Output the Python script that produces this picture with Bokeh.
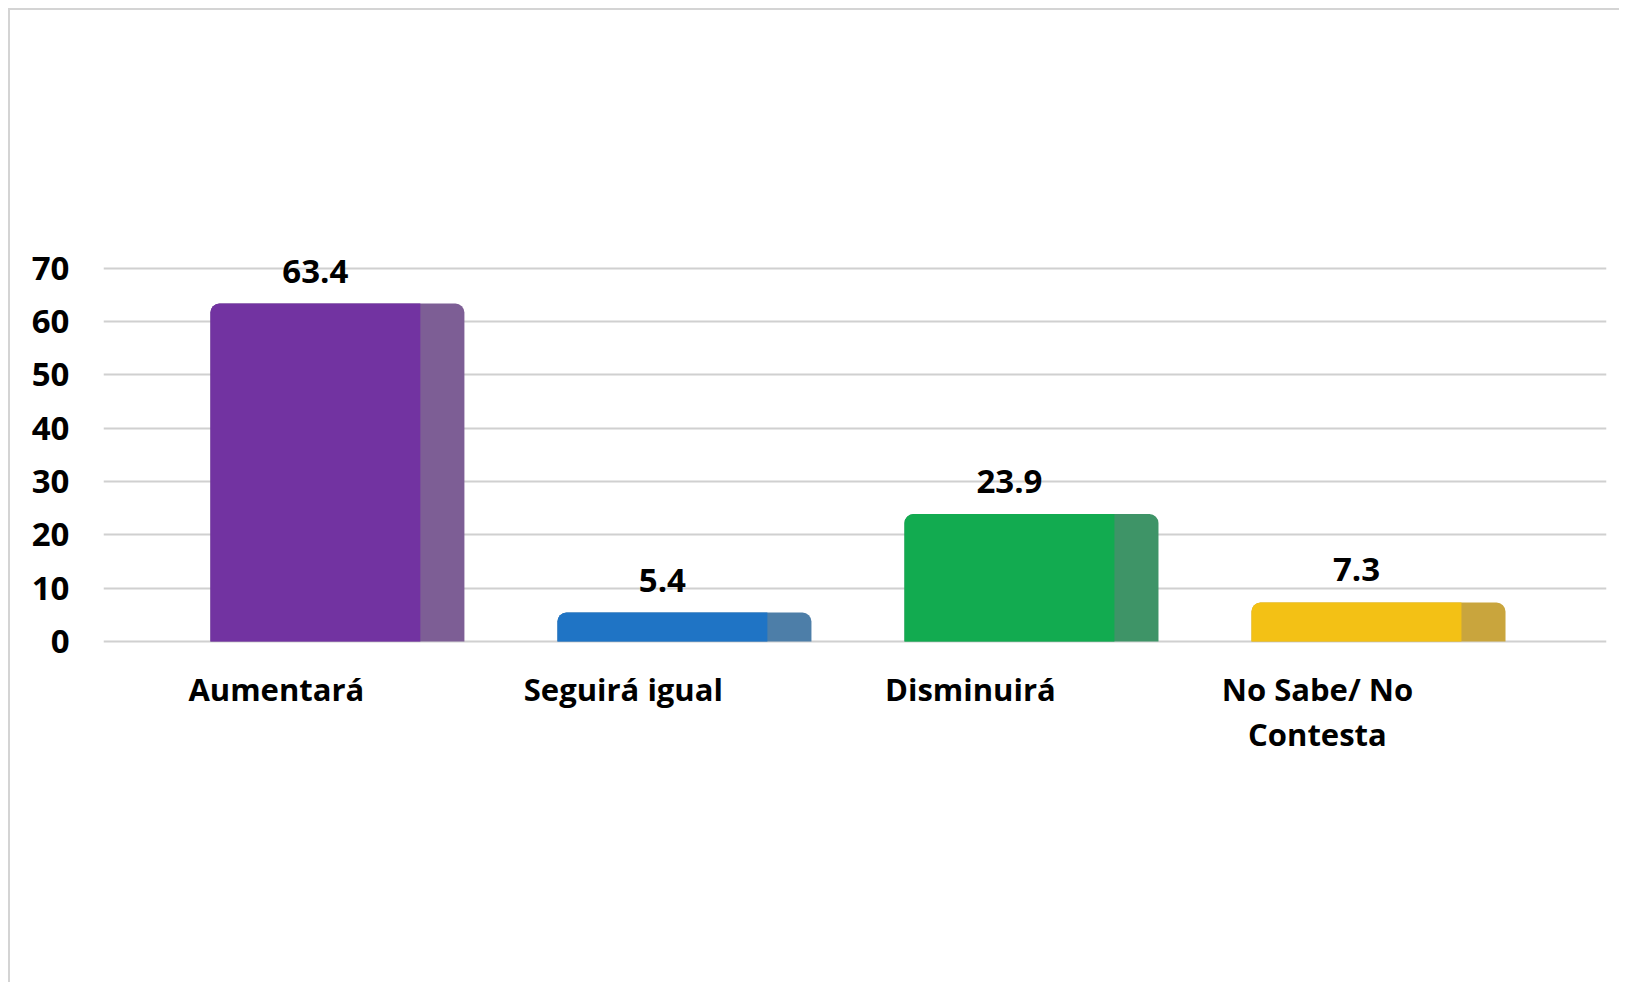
from bokeh.plotting import figure
from bokeh.models import ColumnDataSource, Range1d
from bokeh.core.properties import value
from bokeh.embed import file_html
from bokeh.resources import INLINE

# ---- data ----
categories = ["Aumentará", "Seguirá igual", "Disminuirá", "No Sabe/ No\nContesta"]
values = [63.4, 5.4, 23.9, 7.3]
value_labels = ["63.4", "5.4", "23.9", "7.3"]
front_colors = ["#7233a1", "#1f74c5", "#12ab50", "#f3c115"]
side_colors = ["#7d5e95", "#4d7ea8", "#3e9467", "#c9a53d"]
y_ticks = [0, 10, 20, 30, 40, 50, 60, 70]

FONT = "Open Sans"
idx = list(range(len(categories)))

bar_w = 0.732
front_w = 0.605
front_shift = -(bar_w - front_w) / 2.0

src = ColumnDataSource(dict(
    x=idx,
    xf=[i + front_shift for i in idx],
    xl=[i - 0.176 for i in idx],
    top=values,
    lab=value_labels,
    cat=categories,
    front=front_colors,
    side=side_colors,
))

p = figure(width=1611, height=974,
           x_range=Range1d(-0.674, 3.657), y_range=Range1d(-62.5, 115.0),
           output_backend="svg", toolbar_location=None,
           min_border_left=93, min_border_right=15,
           min_border_top=18, min_border_bottom=10)

p.styles = {"border-left": "2px solid #d4d4d4", "border-top": "2px solid #d4d4d4",
            "margin-left": "8px", "margin-top": "8px"}

# whole bar (side face colour), then front face
p.vbar(x="x", width=bar_w, bottom=0, top="top", source=src,
       fill_color="side", line_color=None, border_radius=(9, 9, 0, 0))
p.vbar(x="xf", width=front_w, bottom=0, top="top", source=src,
       fill_color="front", line_color=None, border_radius=(9, 0, 0, 0))

# value labels
p.text(x="xf", y="top", text="lab", source=src,
       text_font=value(FONT), text_font_style="bold", text_font_size="33px",
       text_align="center", text_baseline="bottom", y_offset=-21,
       text_color="#000000")

# category labels
p.text(x="xl", y=-5.0, text="cat", source=src,
       text_font=value(FONT), text_font_style="bold", text_font_size="31px",
       text_align="center", text_baseline="top", text_line_height=1.08,
       text_color="#000000")

p.xaxis.visible = False
p.xgrid.visible = False
p.outline_line_color = None

p.yaxis.ticker = y_ticks
p.yaxis.axis_line_color = None
p.yaxis.major_tick_line_color = None
p.yaxis.minor_tick_line_color = None
p.yaxis.major_label_text_font = FONT
p.yaxis.major_label_text_font_style = "bold"
p.yaxis.major_label_text_font_size = "33px"
p.yaxis.major_label_text_color = "#000000"
p.yaxis.major_label_standoff = 28

p.ygrid.grid_line_color = "#d0d0d0"
p.ygrid.grid_line_width = 2
p.ygrid.level = "underlay"

p.background_fill_color = "#ffffff"
p.border_fill_color = "#ffffff"

open("out.html", "w").write(file_html(p, INLINE))
